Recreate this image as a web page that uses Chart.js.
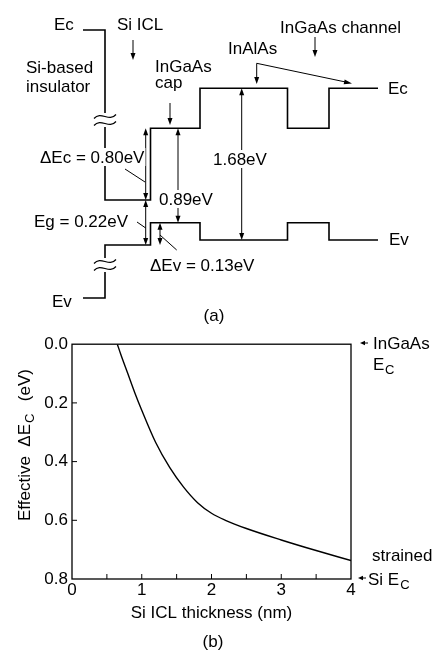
<!DOCTYPE html>
<html>
<head>
<meta charset="utf-8">
<script src="https://cdn.jsdelivr.net/npm/chart.js@4.4.0/dist/chart.umd.min.js"></script>
<style>
  html, body { margin: 0; padding: 0; background: #fff; }
  #wrap { position: relative; width: 443px; height: 651px; }
  #bandBox { position: absolute; left: 0; top: 0; width: 443px; height: 330px; }
  #plotBox { position: absolute; left: 0; top: 330px; width: 443px; height: 321px; }
</style>
</head>
<body>
<div id="wrap">
  <div id="bandBox"><canvas id="bandChart" width="443" height="330"></canvas></div>
  <div id="plotBox"><canvas id="icChart" width="443" height="321"></canvas></div>
</div>
<script>
// (b) Effective conduction band offset vs Si ICL thickness
const thickness = [0.65, 0.7, 0.8, 0.9, 1.0, 1.2, 1.4, 1.6, 1.8, 2.0, 2.2, 2.5, 3.0, 3.5, 4.0];
const effectiveDeltaEc = [0.0, 0.035, 0.10, 0.165, 0.225, 0.335, 0.42, 0.487, 0.54, 0.576, 0.60, 0.628, 0.667, 0.703, 0.737];
const xTickValues = [0, 1, 2, 3, 4];
const xTickMarks = [0.5, 1, 1.5, 2, 2.5, 3, 3.5];
const yTickValues = [0.0, 0.2, 0.4, 0.6, 0.8];

// (a) band diagram sketch: layer edges and band levels (sketch units)
const layerEdges = [83, 105, 150.5, 200, 287.5, 329, 378];
const ecLevels = [30, 200, 128.3, 88.3, 128.3, 88.3, 88.3];
const evLevels = [298, 245, 222.7, 240, 222.7, 240, 240];

const FONT = '"Liberation Sans", Arial, Helvetica, sans-serif';
Chart.defaults.font.family = FONT;
Chart.defaults.color = '#000';

// pfeilspitze
function head(ctx, x0, y0, x1, y1, len, half) {
    const a = Math.atan2(y1 - y0, x1 - x0);
    ctx.beginPath();
    ctx.moveTo(x1, y1);
    ctx.lineTo(x1 - len * Math.cos(a) + half * Math.sin(a), y1 - len * Math.sin(a) - half * Math.cos(a));
    ctx.lineTo(x1 - len * Math.cos(a) - half * Math.sin(a), y1 - len * Math.sin(a) + half * Math.cos(a));
    ctx.closePath();
    ctx.fill();
}

function seg(ctx, x0, y0, x1, y1) {
    ctx.beginPath();
    ctx.moveTo(x0, y0);
    ctx.lineTo(x1, y1);
    ctx.stroke();
}

const bandNotes = {
    id: 'bandNotes',
    afterDatasetsDraw(chart) {
        const ctx = chart.ctx;
        const px = v => chart.scales.x.getPixelForValue(v);
        const py = v => chart.scales.y.getPixelForValue(v);
        ctx.save();
        ctx.strokeStyle = '#000';
        ctx.fillStyle = '#000';

        // Bruchstellen (≈) auf der Isolator-Seite
        [120, 265].forEach(yy => {
            const x = px(layerEdges[1]), y = py(yy);
            ctx.fillStyle = '#fff';
            ctx.fillRect(x - 4, y - 7, 8, 14);
            ctx.fillStyle = '#000';
            ctx.lineWidth = 1.2;
            [-3.5, 3.5].forEach(d => {
                ctx.beginPath();
                ctx.moveTo(x - 11, y + d + 2);
                ctx.bezierCurveTo(x - 4, y + d - 6, x + 4, y + d + 6, x + 11, y + d - 2);
                ctx.stroke();
            });
        });

        ctx.lineWidth = 1;
        // einfache Pfeile nach unten
        [[133, 40, 60], [170, 103, 125], [315, 37, 57]].forEach(a => {
            seg(ctx, px(a[0]), py(a[1]), px(a[0]), py(a[2]) - 4);
            head(ctx, px(a[0]), py(a[1]), px(a[0]), py(a[2]), 7, 2.5);
        });
        // Doppelpfeile (Energieabstände)
        [[145.7, ecLevels[2], ecLevels[1]], [145.7, ecLevels[1], evLevels[1]],
         [178, ecLevels[2], evLevels[2]], [160, evLevels[2], evLevels[1]],
         [241.7, ecLevels[3], evLevels[3]]].forEach(a => {
            const x = px(a[0]), y1 = py(a[1]), y2 = py(a[2]);
            seg(ctx, x, y1 + 3, x, y2 - 3);
            head(ctx, x, y2, x, y1, 7, 2.5);
            head(ctx, x, y1, x, y2, 7, 2.5);
        });
        // Hinweislinien
        [[125, 169, 145, 182], [137, 222, 145.7, 228], [160, 235, 176.7, 250]].forEach(l => {
            seg(ctx, px(l[0]), py(l[1]), px(l[2]), py(l[3]));
        });
        // InAlAs Winkelpfeil
        ctx.beginPath();
        ctx.moveTo(px(256.7), py(80));
        ctx.lineTo(px(256.7), py(63.3));
        ctx.lineTo(px(348), py(82.5));
        ctx.stroke();
        head(ctx, px(256.7), py(63.3), px(256.7), py(84), 7, 2.5);
        head(ctx, px(256.7), py(63.3), px(352), py(83.5), 8, 2.5);

        // Beschriftungen
        ctx.font = '17px ' + FONT;
        ctx.textBaseline = 'alphabetic';
        ctx.textAlign = 'left';
        const labels = [
            ['Ec', 54, 30], ['Si ICL', 117, 30], ['Si-based', 26, 73], ['insulator', 26, 92],
            ['InGaAs', 155, 72], ['cap', 155, 88], ['InAlAs', 228, 54], ['InGaAs channel', 280, 33],
            ['Ec', 388, 94], ['Ev', 389, 245], ['Ev', 52, 307],
            ['\u0394Ec = 0.80eV', 40, 163, true], ['1.68eV', 213, 165, true], ['0.89eV', 159, 205, true],
            ['Eg = 0.22eV', 34, 227], ['\u0394Ev = 0.13eV', 150, 271]
        ];
        labels.forEach(l => {
            const x = px(l[1]), y = py(l[2]);
            if (l[3]) {
                const w = ctx.measureText(l[0]).width;
                ctx.fillStyle = '#fff';
                ctx.fillRect(x - 1, y - 15, w + 2, 18);
                ctx.fillStyle = '#000';
            }
            ctx.fillText(l[0], x, y);
        });
        ctx.textAlign = 'center';
        ctx.fillText('(a)', px(214), py(321));
        ctx.restore();
    }
};

new Chart(document.getElementById('bandChart').getContext('2d'), {
    type: 'scatter',
    data: {
        datasets: [
            {
                label: 'Ec',
                data: layerEdges.map((x, i) => ({ x: x, y: ecLevels[i] })),
                showLine: true,
                stepped: 'before',
                borderColor: '#000',
                borderWidth: 1.6,
                pointRadius: 0
            },
            {
                label: 'Ev',
                data: layerEdges.map((x, i) => ({ x: x, y: evLevels[i] })),
                showLine: true,
                stepped: 'before',
                borderColor: '#000',
                borderWidth: 1.6,
                pointRadius: 0
            }
        ]
    },
    options: {
        responsive: false,
        animation: false,
        layout: { padding: 0 },
        plugins: { legend: { display: false }, tooltip: { enabled: false } },
        scales: {
            x: { type: 'linear', min: 0, max: 443, display: false },
            y: { type: 'linear', min: 0, max: 330, reverse: true, display: false }
        }
    },
    plugins: [bandNotes]
});

// Rahmen, Teilstriche und Texte mit Index für (b)
const frameNotes = {
    id: 'frameNotes',
    afterDraw(chart) {
        const { ctx, chartArea: a } = chart;
        const x = chart.scales.x, y = chart.scales.y;
        ctx.save();
        ctx.strokeStyle = '#000';
        ctx.fillStyle = '#000';
        ctx.lineWidth = 1.3;
        ctx.strokeRect(a.left, a.top, a.right - a.left, a.bottom - a.top);
        ctx.lineWidth = 1;
        xTickMarks.forEach(v => {
            const p = x.getPixelForValue(v);
            seg(ctx, p, a.bottom, p, a.bottom - 5);
        });
        yTickValues.slice(1, -1).forEach(v => {
            const p = y.getPixelForValue(v);
            seg(ctx, a.left, p, a.left + 5, p);
        });

        const big = '17px ' + FONT, small = '13px ' + FONT;
        // y-Achsentitel mit Index
        ctx.save();
        ctx.translate(30, 115);
        ctx.rotate(-Math.PI / 2);
        ctx.font = big;
        const t1 = 'Effective  \u0394E', t3 = '  (eV)';
        const w1 = ctx.measureText(t1).width, w3 = ctx.measureText(t3).width;
        ctx.font = small;
        const w2 = ctx.measureText('C').width;
        let s = -(w1 + w2 + w3 + 4) / 2;
        ctx.textBaseline = 'alphabetic';
        ctx.font = big;
        ctx.fillText(t1, s, 0);
        ctx.font = small;
        ctx.fillText('C', s + w1 + 1, 4);
        ctx.font = big;
        ctx.fillText(t3, s + w1 + w2 + 4, 0);
        ctx.restore();

        // rechte Beschriftungen
        ctx.textBaseline = 'alphabetic';
        ctx.textAlign = 'left';
        ctx.lineWidth = 1;
        seg(ctx, 363, 13, 368, 13);
        head(ctx, 368, 13, 360, 13, 5, 2.2);
        ctx.font = big;
        ctx.fillText('InGaAs', 373, 19);
        ctx.fillText('E', 373, 40);
        ctx.font = small;
        ctx.fillText('C', 385, 44);
        ctx.font = big;
        ctx.fillText('strained', 372, 231);
        seg(ctx, 361, 248, 366, 248);
        head(ctx, 366, 248, 358, 248, 5, 2.2);
        ctx.fillText('Si E', 368, 255);
        const wsi = ctx.measureText('Si E').width;
        ctx.font = small;
        ctx.fillText('C', 368 + wsi + 1, 259);
        ctx.font = big;
        ctx.textAlign = 'center';
        ctx.fillText('(b)', 213, 317);
        ctx.restore();
    }
};

new Chart(document.getElementById('icChart').getContext('2d'), {
    type: 'line',
    data: {
        datasets: [{
            label: 'Effective ΔEc',
            data: thickness.map((t, i) => ({ x: t, y: effectiveDeltaEc[i] })),
            borderColor: '#000',
            borderWidth: 1.4,
            pointRadius: 0,
            fill: false,
            cubicInterpolationMode: 'monotone'
        }]
    },
    options: {
        responsive: false,
        animation: false,
        layout: { padding: { top: 11, right: 92, left: 0, bottom: 0 } },
        plugins: { legend: { display: false }, tooltip: { enabled: false } },
        scales: {
            x: {
                type: 'linear',
                min: 0,
                max: 4,
                afterBuildTicks: s => { s.ticks = xTickValues.map(v => ({ value: v })); },
                afterFit: s => { s.height = 72; },
                grid: { display: false, drawTicks: false },
                border: { display: false },
                ticks: { font: { size: 17 }, color: '#000', padding: 1, maxRotation: 0, autoSkip: false },
                title: {
                    display: true,
                    text: 'Si ICL thickness (nm)',
                    font: { size: 17 },
                    color: '#000',
                    padding: { top: 0, bottom: 27 }
                }
            },
            y: {
                type: 'linear',
                min: 0,
                max: 0.8,
                reverse: true,
                afterBuildTicks: s => { s.ticks = yTickValues.map(v => ({ value: v })); },
                afterFit: s => { s.width = 72; },
                grid: { display: false, drawTicks: false },
                border: { display: false },
                ticks: {
                    font: { size: 17 },
                    color: '#000',
                    padding: 4,
                    callback: v => Number(v).toFixed(1)
                }
            }
        }
    },
    plugins: [frameNotes]
});
</script>
</body>
</html>
